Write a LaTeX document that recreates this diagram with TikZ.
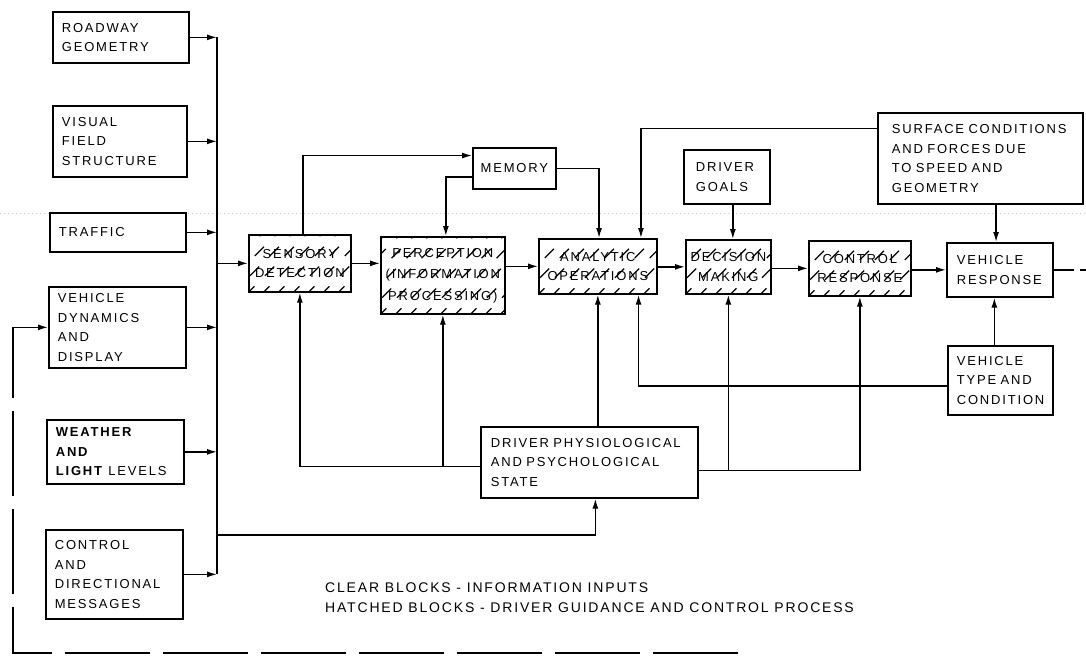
\documentclass[tikz,border=0pt]{standalone}
\usepackage{fontspec}
\setmainfont{Liberation Sans}
\newfontfamily\boxfont{Liberation Sans}[LetterSpace=14,WordSpace=1.6]
\newfontfamily\legfont{Liberation Sans}[LetterSpace=13]
\usetikzlibrary{arrows.meta,calc,backgrounds}
\tikzset{
  box/.style={draw, line width=1.7pt, anchor=north west, inner xsep=9pt, inner ysep=0pt,
    align=left, font=\boxfont\fontsize{13}{19.5}\selectfont},
  hbox/.style={box, align=center, inner xsep=4pt},
  conn/.style={line width=1.4pt},
  arr/.style={conn, -{Latex[length=10pt,width=6pt]}},
  hatchln/.style={line width=1.2pt, dash pattern=on 13pt off 15pt, dash phase=4pt},
  fb/.style={line width=1.4pt, dash pattern=on 85pt off 13pt},
  legend/.style={anchor=west, inner sep=0pt, font=\legfont\fontsize{14}{16}\selectfont},
}
\newcommand\hatchbox[1]{%
  \begin{pgfonlayer}{background}
    \begin{scope}
      \clip (#1.south west) rectangle (#1.north east);
      \foreach \k in {-6,...,10}
        \draw[hatchln] ($(#1.south west)+(\k*15,0)$) -- ++(90,-90);
    \end{scope}
  \end{pgfonlayer}}
\begin{document}
\begin{tikzpicture}[x=1pt,y=-1pt]
\useasboundingbox (0,0) rectangle (1086,664);
\begin{pgfonlayer}{background}
\fill[white] (0,0) rectangle (1086,664);
\draw[gray!40, line width=0.6pt, dash pattern=on 1pt off 3pt] (0,213) -- (1086,213);
\end{pgfonlayer}

% input blocks
\node[box, text width=118pt, minimum height=51pt] (roadway) at (52,11) {ROADWAY\\GEOMETRY};
\node[box, text width=116pt, minimum height=71pt] (visual) at (52,105) {VISUAL\\FIELD\\STRUCTURE};
\node[box, text width=118pt, minimum height=39pt] (traffic) at (49,212) {TRAFFIC};
\node[box, text width=119pt, minimum height=81pt] (vehdyn) at (48,286) {VEHICLE\\DYNAMICS\\AND\\DISPLAY};
\node[box, text width=119pt, minimum height=64pt] (weather) at (46,419) {\textbf{WEATHER}\\\textbf{AND}\\\textbf{LIGHT} LEVELS};
\node[box, text width=119pt, minimum height=89pt] (ctrlmsg) at (45,529) {CONTROL\\AND\\DIRECTIONAL\\MESSAGES};

% process blocks
\node[hbox, text width=94pt, minimum height=57pt] (sensory) at (248,234) {SENSORY\\DETECTION};
\node[hbox, text width=75pt, minimum height=41pt] (memory) at (472,147) {MEMORY};
\node[hbox, text width=116pt, minimum height=77pt] (perception) at (380,236) {PERCEPTION\\[2pt](INFORMATION\\[2pt]PROCESSING)};
\node[hbox, text width=110pt, minimum height=55pt] (analytic) at (538,238) {ANALYTIC\\OPERATIONS};
\node[hbox, text width=77pt, minimum height=54pt] (decision) at (685,239) {DECISION\\MAKING};
\node[box, inner xsep=12pt, text width=62pt, minimum height=54pt] (goals) at (683,149) {DRIVER\\GOALS};
\node[hbox, text width=94pt, minimum height=55pt] (ctrlresp) at (808,240) {CONTROL\\RESPONSE};
\node[box, inner xsep=10pt, text width=86pt, minimum height=54pt] (vehresp) at (946,242) {VEHICLE\\RESPONSE};
\node[box, inner xsep=14pt, text width=177pt, minimum height=91pt] (surface) at (877,112) {SURFACE CONDITIONS\\AND FORCES DUE\\TO SPEED AND\\GEOMETRY};
\node[box, inner xsep=9pt, text width=87pt, minimum height=69pt] (vehtype) at (947,345) {VEHICLE\\TYPE AND\\CONDITION};
\node[box, inner xsep=10pt, text width=197pt, minimum height=71pt] (physio) at (480,426) {DRIVER PHYSIOLOGICAL\\AND PSYCHOLOGICAL\\STATE};

\foreach \h in {sensory,perception,analytic,decision,ctrlresp} {\hatchbox{\h}}

% helper coordinates
\coordinate (bus) at (217,0);
\coordinate (ylow) at (0,535);
\coordinate (memin) at ($(memory.north west)!0.2!(memory.south west)$);
\coordinate (memout) at ($(memory.north west)!0.7!(memory.south west)$);
\coordinate (surfL) at ($(surface.north west)!0.18!(surface.south west)$);
\coordinate (surfS) at ($(surface.south west)!0.576!(surface.south east)$);
\coordinate (anaT1) at ($(analytic.north west)!0.51!(analytic.north east)$);
\coordinate (anaT2) at ($(analytic.north west)!0.86!(analytic.north east)$);
\coordinate (anaB2) at ($(analytic.south west)!0.84!(analytic.south east)$);
\coordinate (vtL) at ($(vehtype.north west)!0.58!(vehtype.south west)$);
\coordinate (physL) at ($(physio.north west)!0.56!(physio.south west)$);
\coordinate (physR) at ($(physio.north east)!0.61!(physio.south east)$);
\coordinate (fbend) at (738,653);
\coordinate (fbx) at (13,653);
\coordinate (rend) at (1086,0);

% input bus
\draw[conn] (roadway.east -| bus) -- (ctrlmsg.east -| bus);
\foreach \n in {roadway,visual,traffic,vehdyn,weather,ctrlmsg}
  \draw[arr] (\n.east) -- (\n.east -| bus);
\draw[arr] (sensory.west -| bus) -- (sensory.west);
\draw[arr] (bus |- ylow) -| ([xshift=6pt]physio.south);

% memory loop
\draw[arr] ([xshift=3pt]sensory.north) |- (memin);
\draw[arr] (memout) -| ([xshift=3pt]perception.north);
\draw[arr] (memory.east) -| (anaT1);
\draw[arr] (surfL) -| (anaT2);

% main chain
\draw[arr] (sensory.east) -- (sensory.east -| perception.west);
\draw[arr] (analytic.west -| perception.east) -- (analytic.west);
\draw[arr] (decision.west -| analytic.east) -- (decision.west);
\draw[arr] (ctrlresp.west -| decision.east) -- (ctrlresp.west);
\draw[arr] (vehresp.west -| ctrlresp.east) -- (vehresp.west);
\draw[arr] ([xshift=6pt]goals.south) -- ([xshift=6pt]goals.south |- decision.north);
\draw[arr] (surfS) -- (surfS |- vehresp.north);
\draw[arr] ([xshift=-6pt]vehtype.north) -- ([xshift=-6pt]vehtype.north |- vehresp.south);
\draw[arr] (vtL) -| (anaB2);

% driver state
\draw[arr] (analytic.south |- physio.north) -- (analytic.south);
\draw[arr] (physL) -| (sensory.south);
\draw[arr] (perception.south |- physL) -- (perception.south);
\draw[arr] (physR) -| (ctrlresp.south);
\draw[arr] (decision.south |- physR) -- (decision.south);

% feedback
\draw[conn, dash pattern=on 20pt off 6pt] (vehresp.east) -- (vehresp.east -| rend);
\draw[fb] (fbend) -- (fbx) -- (fbx |- vehdyn.west);
\draw[arr] (fbx |- vehdyn.west) -- (vehdyn.west);

% legend
\node[legend] (leg1) at (325,588) {CLEAR BLOCKS - INFORMATION INPUTS};
\node[legend] (leg2) at (325,608) {HATCHED BLOCKS - DRIVER GUIDANCE AND CONTROL PROCESS};
\end{tikzpicture}
\end{document}
